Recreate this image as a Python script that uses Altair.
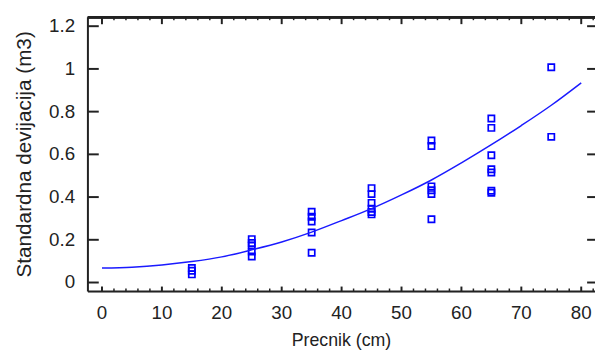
import altair as alt
import pandas as pd

# ---- data ----
pt_x = [15, 15, 15,
        25, 25, 25, 25, 25,
        35, 35, 35, 35, 35,
        45, 45, 45, 45, 45, 45,
        55, 55, 55, 55, 55, 55,
        65, 65, 65, 65, 65, 65, 65,
        75, 75]
pt_y = [0.068, 0.055, 0.038,
        0.203, 0.185, 0.172, 0.145, 0.122,
        0.331, 0.308, 0.286, 0.234, 0.139,
        0.442, 0.414, 0.373, 0.345, 0.330, 0.319,
        0.665, 0.639, 0.450, 0.432, 0.414, 0.296,
        0.768, 0.724, 0.596, 0.530, 0.515, 0.430, 0.420,
        1.008, 0.682]

curve_x = [0, 5, 10, 15, 20, 25, 30, 35, 40, 45, 50, 55, 60, 65, 70, 75, 80]
curve_y = [0.068, 0.072, 0.082, 0.098, 0.120, 0.153, 0.190, 0.236, 0.290,
           0.346, 0.410, 0.480, 0.560, 0.645, 0.735, 0.830, 0.935]

x_major = [0, 10, 20, 30, 40, 50, 60, 70, 80]
x_minor = [2, 4, 6, 8, 12, 14, 16, 18, 22, 24, 26, 28, 32, 34, 36, 38,
           42, 44, 46, 48, 52, 54, 56, 58, 62, 64, 66, 68, 72, 74, 76, 78, 82]
y_major = [0, 0.2, 0.4, 0.6, 0.8, 1.0, 1.2]

W, H = 514, 278
BLUE = "#1a1aff"
INK = "#222222"
FONT = "Liberation Sans"
XT = "Precnik (cm)"
YT = "Standardna devijacija (m3)"

xs = alt.Scale(domain=[-2.35, 82.3], nice=False, zero=False)
ys = alt.Scale(domain=[-0.042, 1.242], nice=False, zero=False)

xa = alt.Axis(values=x_major, ticks=False, grid=False, domain=True,
              domainColor=INK, domainWidth=2, labelPadding=13,
              labelFontSize=19, labelColor=INK, titleFontSize=18,
              titleColor=INK, titleFontWeight="normal",
              titlePadding=9, labelFont=FONT, titleFont=FONT, translate=0)
ya = alt.Axis(values=y_major, ticks=False, grid=False, domain=True,
              domainColor=INK, domainWidth=2, labelPadding=13,
              labelFontSize=19, labelColor=INK, titleFontSize=21,
              titleColor=INK, titleFontWeight="normal",
              titlePadding=14, labelFont=FONT, titleFont=FONT,
              labelExpr="format(datum.value, '~g')", translate=0)

pts = pd.DataFrame({"x": pt_x, "y": pt_y})
crv = pd.DataFrame({"x": curve_x, "y": curve_y})
xmaj = pd.DataFrame({"x": x_major})
xmin = pd.DataFrame({"x": x_minor})
ymaj = pd.DataFrame({"y": y_major})

X = alt.X("x:Q", scale=xs, title=XT, axis=xa)
Y = alt.Y("y:Q", scale=ys, title=YT, axis=ya)

points = alt.Chart(pts).mark_point(
    shape="square", filled=False, color="#0000ff", size=40, strokeWidth=1.7, opacity=1
).encode(x=X, y=Y)

line = alt.Chart(crv).mark_line(color=BLUE, strokeWidth=1.5, interpolate="monotone").encode(
    x=X, y=Y,
)

top_border = alt.Chart(xmaj).mark_rule(color=INK, strokeWidth=2).encode(
    x=alt.value(0), x2=alt.value(W), y=alt.value(0)
)

def xticks(df, y0, y1, sw):
    return alt.Chart(df).mark_rule(color=INK, strokeWidth=sw).encode(
        x=X, y=alt.value(y0), y2=alt.value(y1)
    )

def yticks(df, x0, x1, sw):
    return alt.Chart(df).mark_rule(color=INK, strokeWidth=sw).encode(
        y=Y, x=alt.value(x0), x2=alt.value(x1)
    )

chart = alt.layer(
    points, line, top_border,
    xticks(xmaj, 0, 7, 2), xticks(xmin, 0, 3, 1.5),
    xticks(xmaj, H - 5, H, 2), xticks(xmin, H - 3, H, 1.5),
    yticks(ymaj, 0, 11, 2), yticks(ymaj, W - 8, W, 2),
).properties(
    width=W, height=H,
    autosize=alt.AutoSizeParams(type="none"),
    padding={"left": 81, "top": 7, "right": 0, "bottom": 60},
).configure_view(strokeWidth=0).configure(background="white")

chart.save("out.html", embed_options={"renderer": "svg", "actions": False})
